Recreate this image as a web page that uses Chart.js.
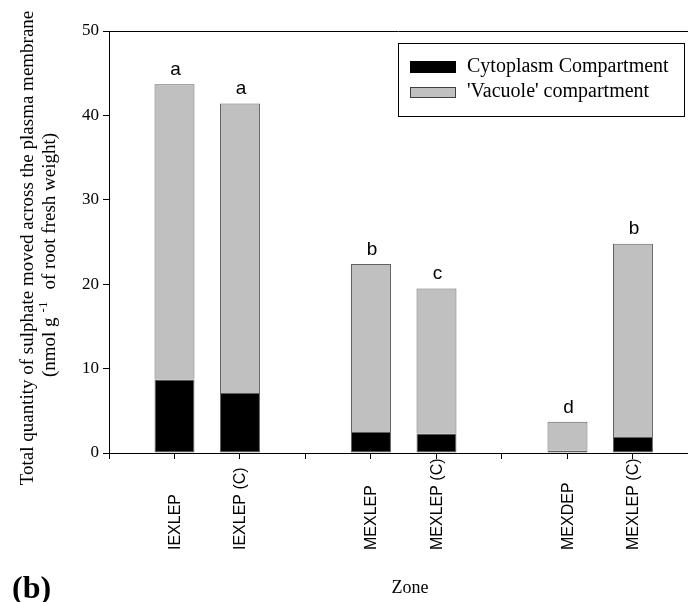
<!DOCTYPE html>
<html lang="en">
<head>
<meta charset="UTF-8">
<title>Sulphate moved across the plasma membrane by zone</title>
<script src="https://cdn.jsdelivr.net/npm/chart.js"></script>
<style>
  body { margin: 0; padding: 0; background: #fff; }
  #wrap { width: 688px; height: 602px; }
</style>
</head>
<body>
<div id="wrap"><canvas id="zoneChart" width="688" height="602"></canvas></div>
<script>
// zone axis tick labels ('' = empty slot between the groups)
const zoneLabels = ['', 'IEXLEP', 'IEXLEP (C)', '', 'MEXLEP', 'MEXLEP (C)', '', 'MEXDEP', 'MEXLEP (C)'];
// nmol g-1 root fresh weight, stacked
const cytoplasm = [null, 8.7, 7.1, null, 2.5, 2.3, null, 0.3, 1.9];
const vacuole   = [null, 35.0, 34.3, null, 19.9, 17.2, null, 3.4, 22.9];
// letters written over each bar
const sigLetters = [null, 'a', 'a', null, 'b', 'c', null, 'd', 'b'];
const seriesNames = ['Cytoplasm Compartment', "'Vacuole' compartment"];

const SERIF = 'Liberation Serif, Times New Roman, serif';
const SANS = 'Liberation Sans, Arial, sans-serif';

function toPoints(arr) {
  return arr.map((v, i) => (v == null ? null : { x: i, y: v })).filter(p => p);
}

const extras = {
  id: 'extras',
  afterDraw(chart) {
    const ctx = chart.ctx;
    const area = chart.chartArea;
    const xs = chart.scales.x;
    const ys = chart.scales.y;
    ctx.save();
    ctx.fillStyle = '#000';
    ctx.strokeStyle = '#000';
    ctx.lineWidth = 1;

    // top frame line
    ctx.beginPath();
    ctx.moveTo(area.left, Math.round(area.top) + 0.5);
    ctx.lineTo(area.right, Math.round(area.top) + 0.5);
    ctx.stroke();

    // letters above bars
    ctx.font = '19px ' + SANS;
    ctx.textAlign = 'center';
    ctx.textBaseline = 'bottom';
    sigLetters.forEach((l, i) => {
      if (!l) return;
      const top = ys.getPixelForValue(cytoplasm[i] + vacuole[i]);
      ctx.fillText(l, xs.getPixelForValue(i) + 1, top - 5);
    });

    // rotated zone labels, all starting at the same baseline row
    ctx.font = '16px ' + SANS;
    ctx.textAlign = 'left';
    ctx.textBaseline = 'middle';
    zoneLabels.forEach((l, i) => {
      if (!l) return;
      ctx.save();
      ctx.translate(xs.getPixelForValue(i) + 1, 550);
      ctx.rotate(-Math.PI / 2);
      ctx.fillText(l, 0, 0);
      ctx.restore();
    });

    // x title
    ctx.font = '18px ' + SERIF;
    ctx.textAlign = 'center';
    ctx.textBaseline = 'alphabetic';
    ctx.fillText('Zone', 410, 593);

    // panel tag
    ctx.font = 'bold 32px ' + SERIF;
    ctx.textAlign = 'left';
    ctx.fillText('(b)', 12, 598);

    // y title, two lines
    ctx.save();
    ctx.translate(33, 248);
    ctx.rotate(-Math.PI / 2);
    ctx.font = '19px ' + SERIF;
    ctx.textAlign = 'center';
    ctx.fillText('Total quantity of sulphate moved across the plasma membrane', 0, 0);
    ctx.restore();

    ctx.save();
    ctx.translate(55, 255);
    ctx.rotate(-Math.PI / 2);
    ctx.textAlign = 'left';
    const parts = [
      { t: '(nmol g', f: '19px ' + SERIF, dy: 0, gap: 5 },
      { t: '-1', f: '13px ' + SERIF, dy: -8, gap: 12 },
      { t: 'of root fresh weight)', f: '19px ' + SERIF, dy: 0, gap: 0 }
    ];
    let total = 0;
    parts.forEach(p => { ctx.font = p.f; p.w = ctx.measureText(p.t).width; total += p.w + p.gap; });
    let px = -total / 2;
    parts.forEach(p => { ctx.font = p.f; ctx.fillText(p.t, px, p.dy); px += p.w + p.gap; });
    ctx.restore();

    // legend box
    ctx.strokeRect(398.5, 43.5, 286, 73);
    ctx.fillStyle = '#000';
    ctx.fillRect(410, 61, 46, 12);
    ctx.fillStyle = '#c0c0c0';
    ctx.fillRect(410, 87, 46, 11);
    ctx.strokeStyle = '#404040';
    ctx.strokeRect(410.5, 87.5, 45, 10);
    ctx.fillStyle = '#000';
    ctx.font = '20px ' + SERIF;
    ctx.textBaseline = 'middle';
    ctx.fillText(seriesNames[0], 467, 67);
    ctx.fillText(seriesNames[1], 467, 92);

    ctx.restore();
  }
};

new Chart(document.getElementById('zoneChart'), {
  type: 'bar',
  data: {
    datasets: [
      {
        label: seriesNames[0],
        data: toPoints(cytoplasm),
        backgroundColor: '#000000',
        borderColor: '#606060',
        borderWidth: 1,
        borderSkipped: false
      },
      {
        label: seriesNames[1],
        data: toPoints(vacuole),
        backgroundColor: '#c0c0c0',
        borderColor: '#606060',
        borderWidth: 1,
        borderSkipped: 'bottom'
      }
    ]
  },
  options: {
    responsive: false,
    devicePixelRatio: 1,
    animation: false,
    barPercentage: 0.61,
    categoryPercentage: 1,
    layout: { padding: { top: 31, right: 0, left: 0, bottom: 0 } },
    plugins: {
      legend: { display: false },
      tooltip: { enabled: false }
    },
    scales: {
      x: {
        type: 'linear',
        stacked: true,
        min: 0,
        max: 8.84,
        offset: false,
        afterBuildTicks: s => { s.ticks = zoneLabels.map((_, i) => ({ value: i })); },
        afterFit: s => { s.height = 149; },
        ticks: { display: false },
        grid: { offset: false, drawOnChartArea: false, drawTicks: true, tickLength: 6, color: '#000', lineWidth: 1 },
        border: { color: '#000', width: 1 }
      },
      y: {
        stacked: true,
        min: 0,
        max: 50,
        afterFit: s => { s.width = 109; },
        ticks: { stepSize: 10, color: '#000', padding: 4, font: { family: SERIF, size: 17 } },
        grid: { drawOnChartArea: false, drawTicks: true, tickLength: 6, color: '#000', lineWidth: 1 },
        border: { color: '#000', width: 1 }
      }
    }
  },
  plugins: [extras]
});
</script>
</body>
</html>
